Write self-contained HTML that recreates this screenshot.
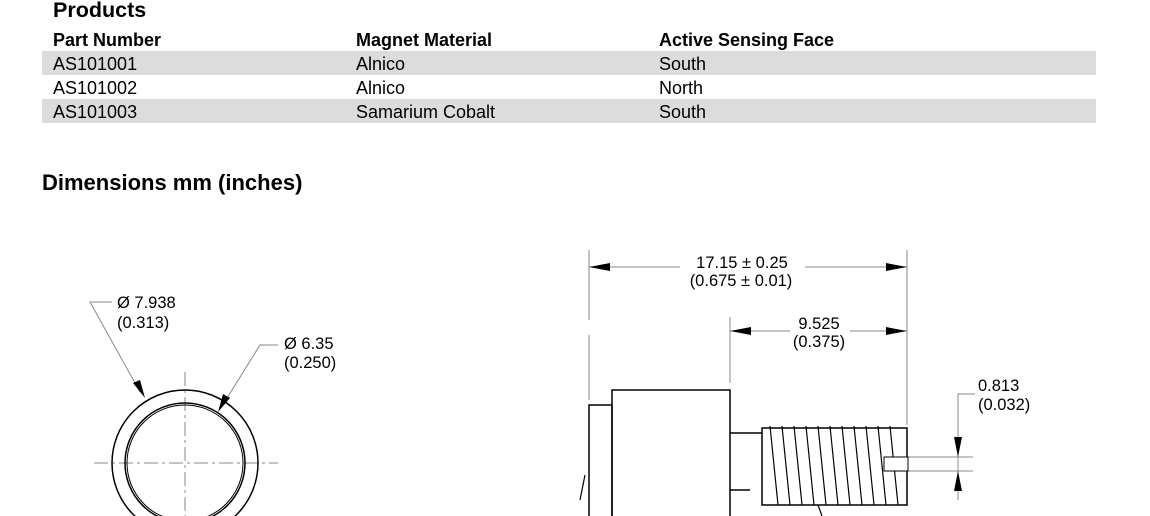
<!DOCTYPE html>
<html><head><style>
body{margin:0;width:1150px;height:516px;overflow:hidden;background:#fff;font-family:"Liberation Sans",Arial,sans-serif;color:#000;position:relative}
.t{position:absolute;white-space:nowrap}
.b{font-weight:bold}
.row{position:absolute;left:42px;width:1054px;height:24px;background:#dcdcdc}
.c{font-size:18px}
</style></head><body>
<div class="t b" style="left:53px;top:-2px;font-size:21.5px">Products</div>
<div class="t b c" style="left:53px;top:30px">Part Number</div>
<div class="t b c" style="left:356px;top:30px">Magnet Material</div>
<div class="t b c" style="left:659px;top:30px">Active Sensing Face</div>
<div class="row" style="top:51px"></div>
<div class="row" style="top:99px"></div>
<div class="t c" style="left:53px;top:54px">AS101001</div>
<div class="t c" style="left:356px;top:54px">Alnico</div>
<div class="t c" style="left:659px;top:54px">South</div>
<div class="t c" style="left:53px;top:78px">AS101002</div>
<div class="t c" style="left:356px;top:78px">Alnico</div>
<div class="t c" style="left:659px;top:78px">North</div>
<div class="t c" style="left:53px;top:102px">AS101003</div>
<div class="t c" style="left:356px;top:102px">Samarium Cobalt</div>
<div class="t c" style="left:659px;top:102px">South</div>
<div class="t b" style="left:42px;top:170px;font-size:22px">Dimensions mm (inches)</div>
<svg width="1150" height="516" style="position:absolute;left:0;top:0" font-family="Liberation Sans, Arial, sans-serif" font-size="16.5">
<g stroke="#888" stroke-width="1" fill="none">
<line x1="185" y1="372" x2="185" y2="516" stroke-dasharray="14,4,3,4"/>
<line x1="94" y1="463" x2="278" y2="463" stroke-dasharray="14,4,3,4"/>
<polyline points="112,302 90,302 140,392"/>
<polyline points="278,345 260,345 222,406"/>
<line x1="589" y1="250" x2="589" y2="320"/><line x1="589" y1="335" x2="589" y2="400"/>
<line x1="907" y1="250" x2="907" y2="425"/>
<line x1="730" y1="317" x2="730" y2="383"/>
<line x1="589" y1="267" x2="680" y2="267"/><line x1="805" y1="267" x2="907" y2="267"/>
<line x1="730" y1="331" x2="790" y2="331"/><line x1="850" y1="331" x2="907" y2="331"/>
<polyline points="975,394 958,394 958,500"/>
<line x1="884" y1="457" x2="973" y2="457"/><line x1="884" y1="471" x2="973" y2="471"/>
</g>
<g fill="#000">
<polygon points="589,267 610,263 610,271"/><polygon points="907,267 886,263 886,271"/>
<polygon points="730,331 751,327 751,335"/><polygon points="907,331 886,327 886,335"/>
<polygon points="958,457 954,437 962,437"/><polygon points="958,471 954,491 962,491"/>
<polygon points="145,398 133,383 140,380"/><polygon points="218,412 223,394 230,398"/>
</g>
<g fill="none" stroke="#000" stroke-width="1.5">
<circle cx="185" cy="463" r="73"/>
<circle cx="185" cy="463" r="60"/>
<circle cx="185" cy="463" r="58" stroke-width="1"/>
<rect x="589" y="405" width="23" height="120"/>
<rect x="612" y="390" width="118" height="135"/>
<polyline points="730,433 762,433"/><polyline points="730,490 750,490"/>
<path d="M762,428 L907,428 L907,505 L762,505 Z"/>
</g>
<g stroke="#000" stroke-width="1.2">
<line x1="770" y1="426" x2="778" y2="505"/><line x1="782" y1="426" x2="790" y2="505"/>
<line x1="794" y1="426" x2="802" y2="505"/><line x1="806" y1="426" x2="814" y2="505"/>
<line x1="818" y1="426" x2="826" y2="505"/><line x1="830" y1="426" x2="838" y2="505"/>
<line x1="842" y1="426" x2="850" y2="505"/><line x1="854" y1="426" x2="862" y2="505"/>
<line x1="866" y1="426" x2="874" y2="505"/><line x1="878" y1="426" x2="886" y2="505"/>
<line x1="890" y1="426" x2="898" y2="505"/>
<line x1="818" y1="505" x2="822" y2="516"/><line x1="585" y1="475" x2="580" y2="500"/>
</g>
<rect x="884" y="457" width="24" height="14" fill="#fff" stroke="#000"/>
<g fill="#000">
<text x="117" y="308">Ø 7.938</text><text x="117" y="328">(0.313)</text>
<text x="284" y="349">Ø 6.35</text><text x="284" y="368">(0.250)</text>
<text x="742" y="268" text-anchor="middle">17.15 ± 0.25</text><text x="741" y="286" text-anchor="middle">(0.675 ± 0.01)</text>
<text x="819" y="329" text-anchor="middle">9.525</text><text x="819" y="347" text-anchor="middle">(0.375)</text>
<text x="978" y="391">0.813</text><text x="978" y="410">(0.032)</text>
</g>
</svg>
</body></html>
